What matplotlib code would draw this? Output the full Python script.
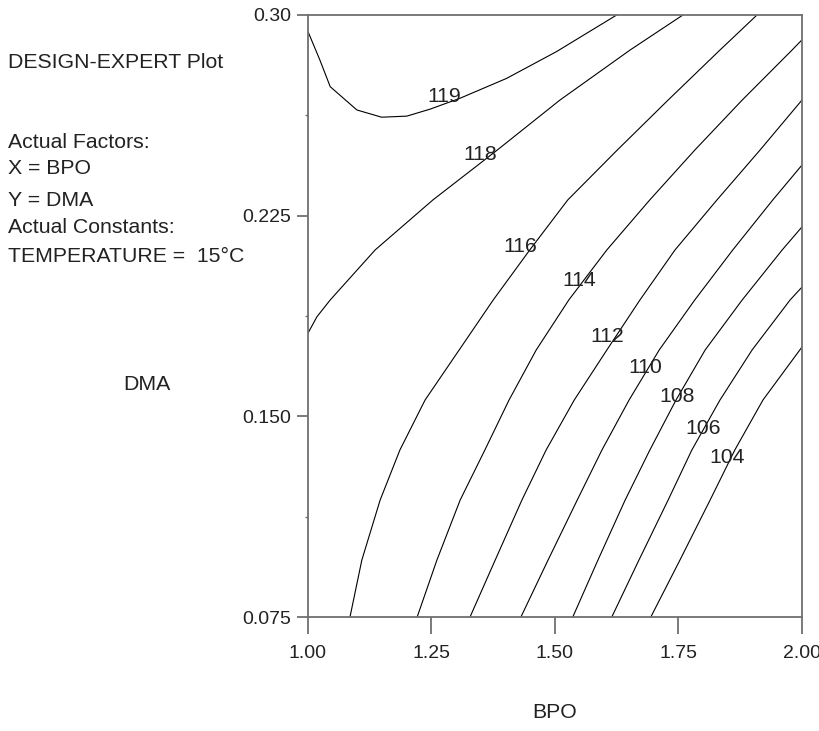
import numpy as np
import matplotlib.pyplot as plt

plt.rcParams['font.family'] = ['Liberation Sans', 'DejaVu Sans']

# contour lines: (BPO, DMA) points for each level
levels = [119, 118, 116, 114, 112, 110, 108, 106, 104]

bpo_119 = [1.000, 1.024, 1.045, 1.099, 1.149, 1.200, 1.247, 1.308, 1.402, 1.503, 1.625]
dma_119 = [0.2938, 0.2832, 0.2732, 0.2645, 0.2618, 0.2622, 0.2648, 0.2689, 0.2763, 0.2863, 0.300]

bpo_118 = [1.000, 1.018, 1.045, 1.136, 1.253, 1.383, 1.510, 1.652, 1.759]
dma_118 = [0.1811, 0.1872, 0.1935, 0.2122, 0.2309, 0.2495, 0.2682, 0.2869, 0.300]

bpo_116 = [1.085, 1.109, 1.146, 1.186, 1.237, 1.306, 1.375, 1.449, 1.526, 1.626, 1.729, 1.834, 1.909]
dma_116 = [0.075, 0.0963, 0.1187, 0.1374, 0.1561, 0.1748, 0.1935, 0.2122, 0.2309, 0.2495, 0.2682, 0.2869, 0.300]

bpo_114 = [1.221, 1.261, 1.308, 1.358, 1.407, 1.462, 1.528, 1.605, 1.692, 1.783, 1.879, 1.980, 2.000]
dma_114 = [0.075, 0.0963, 0.1187, 0.1374, 0.1561, 0.1748, 0.1935, 0.2122, 0.2309, 0.2495, 0.2682, 0.2869, 0.2907]

bpo_112 = [1.328, 1.379, 1.433, 1.482, 1.539, 1.605, 1.672, 1.743, 1.828, 1.915, 2.000]
dma_112 = [0.075, 0.0963, 0.1187, 0.1374, 0.1561, 0.1748, 0.1935, 0.2122, 0.2309, 0.2495, 0.2682]

bpo_110 = [1.431, 1.486, 1.545, 1.595, 1.650, 1.711, 1.783, 1.860, 1.941, 2.000]
dma_110 = [0.075, 0.0963, 0.1187, 0.1374, 0.1561, 0.1748, 0.1935, 0.2122, 0.2309, 0.2439]

bpo_108 = [1.536, 1.587, 1.642, 1.692, 1.745, 1.804, 1.879, 1.960, 2.000]
dma_108 = [0.075, 0.0963, 0.1187, 0.1374, 0.1561, 0.1748, 0.1935, 0.2122, 0.2208]

bpo_106 = [1.615, 1.670, 1.729, 1.777, 1.834, 1.899, 1.976, 2.000]
dma_106 = [0.075, 0.0963, 0.1187, 0.1374, 0.1561, 0.1748, 0.1935, 0.1983]

bpo_104 = [1.694, 1.753, 1.814, 1.864, 1.921, 2.000]
dma_104 = [0.075, 0.0963, 0.1187, 0.1374, 0.1561, 0.1759]

lines_bpo = [bpo_119, bpo_118, bpo_116, bpo_114, bpo_112, bpo_110, bpo_108, bpo_106, bpo_104]
lines_dma = [dma_119, dma_118, dma_116, dma_114, dma_112, dma_110, dma_108, dma_106, dma_104]

# label positions
label_bpo = [1.275, 1.348, 1.429, 1.549, 1.605, 1.682, 1.747, 1.800, 1.848]
label_dma = [0.2697, 0.2480, 0.2133, 0.2006, 0.1797, 0.1684, 0.1576, 0.1456, 0.1348]

x_ticks = [1.00, 1.25, 1.50, 1.75, 2.00]
x_labels = ['1.00', '1.25', '1.50', '1.75', '2.00']
y_ticks = [0.075, 0.150, 0.225, 0.30]
y_labels = ['0.075', '0.150', '0.225', '0.30']

fs = 15.3
tfs = 14
tc = '#222222'

fig = plt.figure(figsize=(8.2, 7.31), dpi=100)
ax = fig.add_axes([0.3756, 0.1559, 0.6024, 0.8236])

for xs, ys in zip(lines_bpo, lines_dma):
    ax.plot(xs, ys, color='black', lw=0.8, solid_joinstyle='round')

for lev, lx, ly in zip(levels, label_bpo, label_dma):
    ax.text(lx, ly, str(lev), fontsize=fs, ha='center', va='center', color=tc)

ax.set_xlim(1.0, 2.0)
ax.set_ylim(0.075, 0.30)
ax.set_xticks(x_ticks)
ax.set_xticklabels(x_labels)
ax.set_yticks(y_ticks)
ax.set_yticklabels(y_labels)
ax.set_yticks([0.1125, 0.1875, 0.2625], minor=True)

for s in ax.spines.values():
    s.set_color('#707070')
    s.set_linewidth(1.3)
ax.tick_params(axis='x', length=12, width=1.3, color='#707070', pad=8, labelsize=tfs, labelcolor=tc)
ax.tick_params(axis='y', length=8, width=1.3, color='#707070', pad=4, labelsize=tfs, labelcolor=tc)
ax.tick_params(axis='y', which='minor', length=2, width=1.0, color='#707070')

# side notes
notes = ['DESIGN-EXPERT Plot', 'Actual Factors:', 'X = BPO', 'Y = DMA',
         'Actual Constants:', 'TEMPERATURE =  15°C']
note_y = [63, 142, 168, 201, 228, 257]
for t, yy in zip(notes, note_y):
    fig.text(8 / 820, 1 - yy / 731, t, fontsize=fs, va='center', color=tc)

fig.text(147 / 820, 1 - 384 / 731, 'DMA', fontsize=fs, ha='center', va='center', color=tc)
fig.text(555 / 820, 1 - 713 / 731, 'BPO', fontsize=fs, ha='center', va='center', color=tc)

fig.savefig('out.png', dpi=100)
